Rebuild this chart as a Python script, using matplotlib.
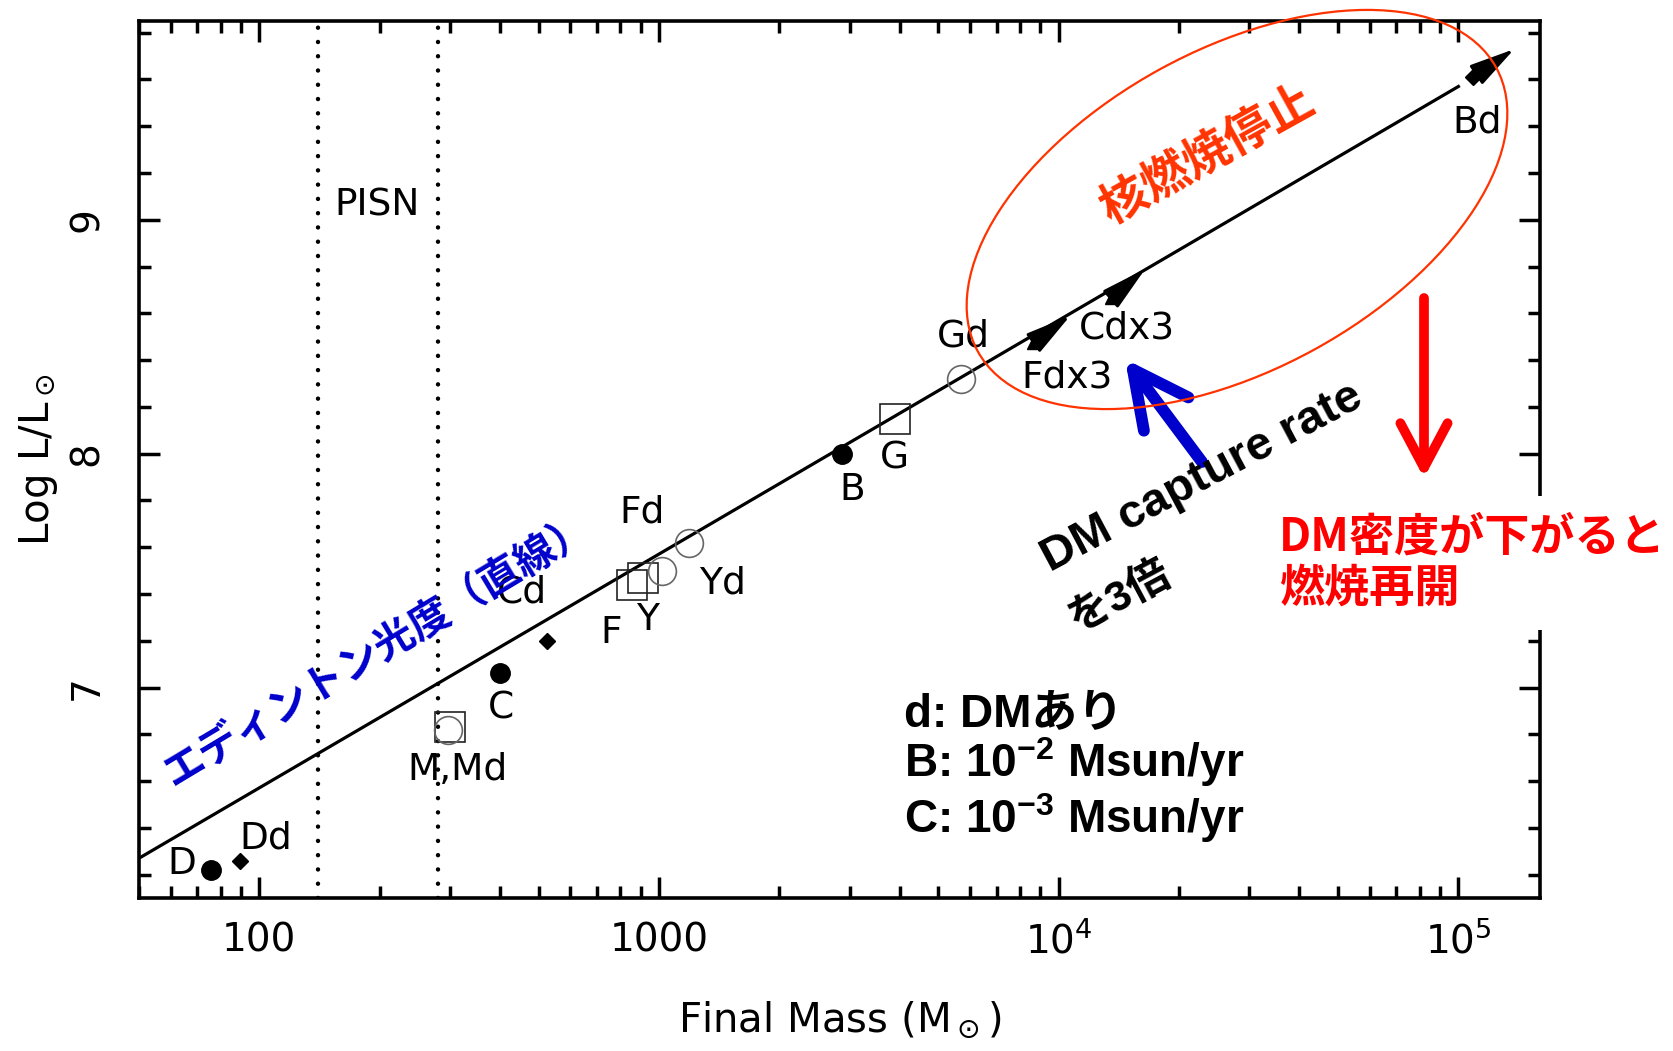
import numpy as np
import matplotlib
matplotlib.use('Agg')
import matplotlib.pyplot as plt
from matplotlib.patches import Ellipse
from matplotlib.ticker import FixedLocator, LogLocator, MultipleLocator, NullFormatter

plt.rcParams['font.family'] = ['DejaVu Sans', 'Noto Sans CJK JP']
plt.rcParams['mathtext.fontset'] = 'custom'
plt.rcParams['mathtext.rm'] = 'DejaVu Sans'
plt.rcParams['mathtext.bf'] = 'Liberation Sans:bold'

# ---- data: final mass (Msun) and log L/Lsun of each model ----
# filled circles, no dark matter
base_names = ['D', 'C', 'B']
base_mass = [75.9, 400, 2875]
base_logL = [6.22, 7.06, 8.00]

# diamonds, with dark matter
dm_names = ['Dd', 'Cd', 'Bd']
dm_mass = [89.5, 525, 108600]
dm_logL = [6.26, 7.20, 9.61]

# open squares
sq_names = ['M,Md', 'F', 'Y', 'G']
sq_mass = [300, 854, 914, 3890]
sq_logL = [6.83, 7.44, 7.47, 8.15]

# open circles, with dark matter
oc_names = ['', 'Fd', 'Yd', 'Gd']
oc_mass = [297, 1186, 1018, 5686]
oc_logL = [6.82, 7.62, 7.50, 8.32]

# DM capture rate x3 (still growing at the end of the run)
x3_names = ['Fdx3', 'Cdx3']
x3_mass = [8580, 13460]
x3_logL = [8.47, 8.66]
x3_mass_end = [10690, 16460]
x3_logL_end = [8.59, 8.79]

# Bd is still growing too
bd_mass_end = 138000
bd_logL_end = 9.73

# Eddington luminosity
edd_mass = [50, 1.0e5]
edd_logL = [6.27, 9.57]

# pair-instability supernova range
pisn_mass = [140, 280]

# label offsets from each marker, pixels
label_off = {
    'D': (-30, 6), 'Dd': (26, 22), 'M,Md': (7, -43), 'C': (1, -35),
    'Cd': (-25, 48), 'F': (-20, -48), 'Y': (4, -42), 'Fd': (-47, 30),
    'Yd': (60, -13), 'B': (10, -36), 'G': (0, -40), 'Gd': (3, 42),
    'Fdx3': (35, -34), 'Cdx3': (17, -29), 'Bd': (4, -45),
}

W, H = 1673, 1051
fig = plt.figure(figsize=(W / 100, H / 100), dpi=100)
ax = fig.add_axes([139 / W, 1 - 898 / H, 1401 / W, 877 / H])


def fpx(x, y):
    # image pixel (origin top-left) -> figure fraction
    return x / W, 1 - y / H


ax.set_xscale('log')
ax.set_xlim(50, 1.6e5)
ax.set_ylim(6.1, 9.85)

# PISN boundaries
for m in pisn_mass:
    ax.axvline(m, color='k', lw=3.2, linestyle=(0, (0.01, 3.2)),
               dash_capstyle='round', zorder=1)
ax.text(197, 9.06, 'PISN', ha='center', va='center', fontsize=27)

# Eddington line
ax.plot(edd_mass, edd_logL, color='k', lw=2.3, zorder=2)

ax.plot(base_mass, base_logL, 'o', color='k', ms=14, zorder=3)
ax.plot(dm_mass, dm_logL, 'D', color='k', ms=8.5, zorder=3)
ax.plot(sq_mass, sq_logL, 's', mfc='none', mec='#222222', mew=1.2, ms=22, zorder=3)
ax.plot(oc_mass, oc_logL, 'o', mfc='none', mec='#666666', mew=1.2, ms=20, zorder=3)
ax.plot(x3_mass, x3_logL, '^', color='k', ms=7, zorder=3)

arrow_kw = dict(arrowstyle='-|>,head_length=1.4,head_width=0.35', color='k',
                lw=2.2, shrinkA=0, shrinkB=0, mutation_scale=20)
for m0, l0, m1, l1 in zip(x3_mass, x3_logL, x3_mass_end, x3_logL_end):
    ax.annotate('', xy=(m1, l1), xytext=(m0, l0), arrowprops=arrow_kw)
ax.annotate('', xy=(bd_mass_end, bd_logL_end), xytext=(dm_mass[2], dm_logL[2]),
            arrowprops=arrow_kw)

# point labels
for names, ms, ls in [(base_names, base_mass, base_logL), (dm_names, dm_mass, dm_logL),
                      (sq_names, sq_mass, sq_logL), (oc_names, oc_mass, oc_logL),
                      (x3_names, x3_mass, x3_logL)]:
    for n, m, l in zip(names, ms, ls):
        if not n:
            continue
        ax.annotate(n, (m, l), xytext=label_off[n], textcoords='offset pixels',
                    ha='center', va='center', fontsize=27)

# axes styling
for sp in ax.spines.values():
    sp.set_linewidth(2.6)
ax.xaxis.set_major_locator(FixedLocator([100, 1000, 1e4, 1e5]))
ax.set_xticklabels(['100', '1000', r'$10^4$', r'$10^5$'])
ax.xaxis.set_minor_locator(LogLocator(base=10, subs=np.arange(2, 10), numticks=30))
ax.xaxis.set_minor_formatter(NullFormatter())
ax.set_yticks([7, 8, 9])
ax.set_yticklabels(['7', '8', '9'], rotation=90, va='center')
ax.yaxis.set_minor_locator(MultipleLocator(0.2))
ax.tick_params(which='both', direction='in', top=True, right=True, width=2.5)
ax.tick_params(which='major', length=15, labelsize=28)
ax.tick_params(which='minor', length=8.5)
ax.tick_params(axis='x', which='major', pad=17)
ax.tick_params(axis='y', which='major', pad=24)

ax.set_xlabel(r'Final Mass (M$_\odot$)', fontsize=29)
ax.xaxis.set_label_coords(0.5, -0.116)
ax.set_ylabel(r'Log L/L$_\odot$', fontsize=29)
ax.yaxis.set_label_coords(-0.0564, 0.5)

# annotations
fig.text(*fpx(379, 650), 'エディントン光度（直線）', color='#0000CC', fontsize=29.5,
         family='Noto Sans CJK JP', weight='bold', rotation=31,
         ha='center', va='center')

fig.add_artist(Ellipse((12.37, (H - 209.5) / 100), 5.91, 3.20, angle=28.7,
                       transform=fig.dpi_scale_trans, fill=False,
                       ec='#FF3300', lw=1.6, zorder=4))
fig.text(*fpx(1207, 155), '核燃焼停止', color='#FF3300', fontsize=34,
         family='Noto Sans CJK JP', weight='bold', rotation=29,
         ha='center', va='center')

ax.annotate('', xy=(1125, H - 359), xycoords='figure pixels',
            xytext=(1202, H - 462), textcoords='figure pixels',
            arrowprops=dict(arrowstyle='->,head_length=2.0,head_width=1.0',
                            color='#0000CC', lw=8.5, shrinkA=0, shrinkB=0,
                            mutation_scale=20, capstyle='round'))
fig.text(*fpx(1050, 572), 'DM capture rate', fontsize=34, weight='bold',
         family=['Liberation Sans', 'Noto Sans CJK JP'],
         rotation=28, rotation_mode='anchor', ha='left', va='baseline')
fig.text(*fpx(1077, 632), 'を3倍', fontsize=31, weight='bold',
         family=['Liberation Sans', 'Noto Sans CJK JP'],
         rotation=28, rotation_mode='anchor', ha='left', va='baseline')

ax.annotate('', xy=(1424, H - 478), xycoords='figure pixels',
            xytext=(1424, H - 298), textcoords='figure pixels',
            arrowprops=dict(arrowstyle='->,head_length=1.6,head_width=0.85',
                            color='#FF0000', lw=7, shrinkA=0, shrinkB=0,
                            mutation_scale=20, capstyle='round'))
fig.text(*fpx(1279, 563), 'DM密度が下がると\n燃焼再開', color='#FF0000',
         fontsize=32.5, weight='bold', family='Noto Sans CJK JP',
         ha='left', va='center', linespacing=1.15,
         bbox=dict(boxstyle='square,pad=0.4', fc='white', ec='none'))

legend_font = dict(fontsize=33, weight='bold', va='baseline',
                   family=['Liberation Sans', 'Noto Sans CJK JP'])
fig.text(*fpx(904, 727), 'd: DMあり', **legend_font)
fig.text(*fpx(904, 777), r'B: 10$^{\mathbf{-2}}$ Msun/yr', **legend_font)
fig.text(*fpx(904, 833), r'C: 10$^{\mathbf{-3}}$ Msun/yr', **legend_font)

fig.savefig('out.png', dpi=100)
